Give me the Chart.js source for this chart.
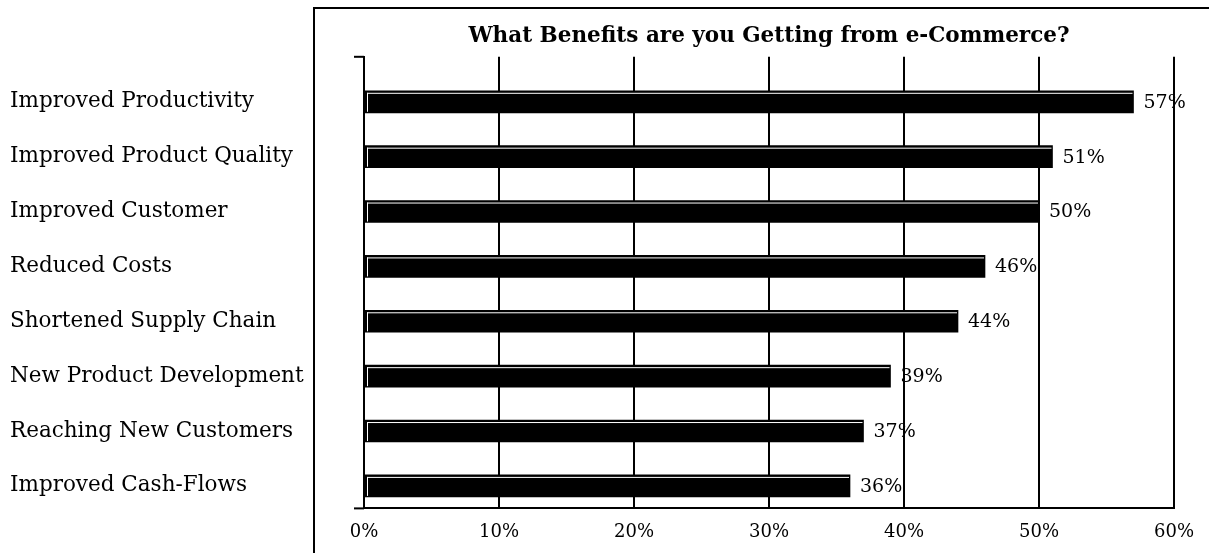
<!DOCTYPE html>
<html>
<head>
<meta charset="utf-8">
<script src="https://cdn.jsdelivr.net/npm/chart.js@4.4.1/dist/chart.umd.min.js"></script>
<style>
  html, body { margin: 0; padding: 0; background: #fff; }
  #wrap { width: 1209px; height: 553px; position: relative; }
</style>
</head>
<body>
<div id="wrap"><canvas id="chartBeneficios"></canvas></div>
<script>
const titulo = 'What Benefits are you Getting from e-Commerce?';
const categorias = [
    'Improved Productivity',
    'Improved Product Quality',
    'Improved Customer',
    'Reduced Costs',
    'Shortened Supply Chain',
    'New Product Development',
    'Reaching New Customers',
    'Improved Cash-Flows'
];
const porcentajes = [57, 51, 50, 46, 44, 39, 37, 36];
const ticksX = [0, 10, 20, 30, 40, 50, 60];

const fuente = "'DejaVu Serif', serif";

// marco exterior (linea izquierda y superior)
const marco = {
    id: 'marco',
    beforeDraw(chart) {
        const ctx = chart.ctx;
        ctx.save();
        ctx.fillStyle = '#fff';
        ctx.fillRect(0, 0, chart.width, chart.height);
        ctx.strokeStyle = '#000';
        ctx.lineWidth = 2;
        ctx.beginPath();
        ctx.moveTo(314, chart.height + 2);
        ctx.lineTo(314, 8);
        ctx.lineTo(chart.width + 2, 8);
        ctx.stroke();
        ctx.restore();
    },
    afterDraw(chart) {
        // marcas cortas en los extremos del eje Y
        const a = chart.chartArea;
        const ctx = chart.ctx;
        ctx.save();
        ctx.fillStyle = '#000';
        ctx.fillRect(a.left - 10, a.top - 1, 10, 2);
        ctx.fillRect(a.left - 10, a.bottom - 1, 10, 2);
        ctx.restore();
    }
};

// linea blanca interior de cada barra + etiqueta de valor
const barras = {
    id: 'barras',
    afterDatasetsDraw(chart) {
        const ctx = chart.ctx;
        const meta = chart.getDatasetMeta(0);
        ctx.save();
        meta.data.forEach((bar, i) => {
            const {x, y, base, height} = bar.getProps(['x', 'y', 'base', 'height'], true);
            const top = y - height / 2;
            ctx.fillStyle = '#fff';
            ctx.fillRect(base + 2, top + 2, x - base - 3, 1);
            ctx.fillRect(base + 2, top + 2, 1, height - 3);
            ctx.fillStyle = '#000';
            ctx.font = '19px ' + fuente;
            ctx.textAlign = 'left';
            ctx.textBaseline = 'middle';
            ctx.fillText(porcentajes[i] + '%', x + 10, y + 1);
        });
        ctx.restore();
    }
};

new Chart(document.getElementById('chartBeneficios').getContext('2d'), {
    type: 'bar',
    data: {
        datasets: [
            {
                data: porcentajes.map((v, i) => ({x: v, y: i})),
                backgroundColor: '#000',
                borderWidth: 0,
                barThickness: 22,
            },
        ],
    },
    options: {
        indexAxis: 'y',
        responsive: true,
        maintainAspectRatio: false,
        animation: false,
        layout: {
            padding: {left: 10, right: 35, top: 0, bottom: -3}
        },
        plugins: {
            legend: {display: false},
            tooltip: {enabled: false},
            title: {
                display: true,
                text: titulo,
                fullSize: false,
                color: '#000',
                font: {family: fuente, size: 21.5, weight: 'bold'},
                padding: {top: 24, bottom: 7}
            }
        },
        scales: {
            x: {
                type: 'linear',
                min: 0,
                max: 60,
                afterBuildTicks: (scale) => { scale.ticks = ticksX.map(v => ({value: v})); },
                ticks: {
                    color: '#000',
                    font: {family: fuente, size: 18},
                    padding: 13,
                    maxRotation: 0,
                    callback: (v) => v + '%'
                },
                grid: {color: '#000', lineWidth: 2, drawTicks: false},
                border: {display: true, color: '#000', width: 2}
            },
            y: {
                type: 'linear',
                reverse: true,
                offset: false,
                min: -0.82,
                max: 7.41,
                afterBuildTicks: (scale) => { scale.ticks = categorias.map((c, i) => ({value: i})); },
                afterFit: (scale) => { scale.width = 354; },
                ticks: {
                    color: '#000',
                    crossAlign: 'far',
                    font: {family: fuente, size: 21.5},
                    callback: (v) => categorias[v]
                },
                grid: {display: false, offset: false},
                border: {display: true, color: '#000', width: 2}
            }
        }
    },
    plugins: [marco, barras]
});
</script>
</body>
</html>
